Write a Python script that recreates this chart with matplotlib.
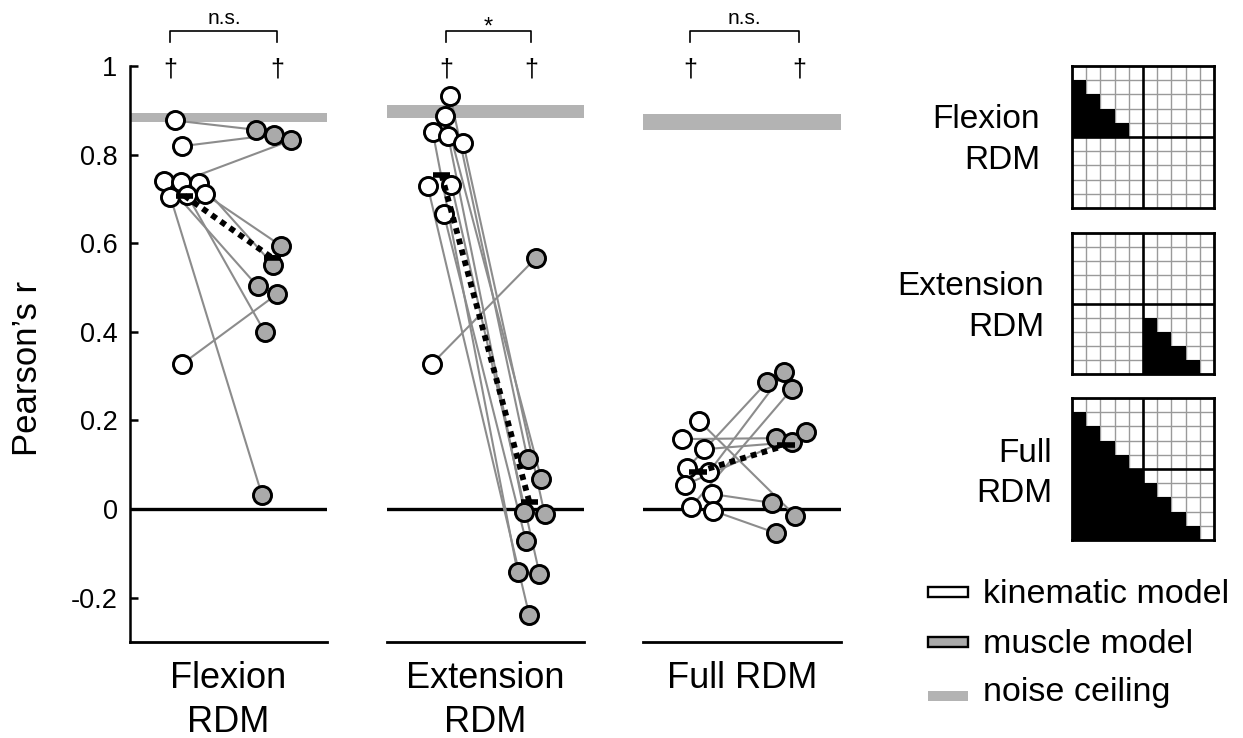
import matplotlib
matplotlib.use("Agg")
import matplotlib.pyplot as plt
from matplotlib.patches import Rectangle
import numpy as np

plt.rcParams['font.family'] = ['Liberation Sans', 'DejaVu Sans']

# ---------------- data ----------------
categories = ['Flexion\nRDM', 'Extension\nRDM', 'Full RDM']

kin_flex = [0.877, 0.819, 0.741, 0.739, 0.737, 0.704, 0.709, 0.711, 0.327]
mus_flex = [0.856, 0.845, 0.503, 0.832, 0.551, 0.032, 0.400, 0.594, 0.485]

kin_ext = [0.932, 0.888, 0.851, 0.843, 0.826, 0.729, 0.732, 0.665, 0.328]
mus_ext = [0.114, 0.069, -0.142, -0.006, -0.011, -0.240, -0.146, -0.071, 0.567]

kin_full = [0.199, 0.158, 0.135, 0.093, 0.084, 0.055, 0.034, 0.004, -0.004]
mus_full = [-0.015, 0.160, 0.151, 0.286, 0.309, 0.175, 0.014, 0.271, -0.054]

noise_lo = [0.874, 0.882, 0.855]
noise_hi = [0.895, 0.911, 0.891]

sig_labels = ['n.s.', '*', 'n.s.']

yticks = [-0.2, 0, 0.2, 0.4, 0.6, 0.8, 1]
ytick_labels = ['-0.2', '0', '0.2', '0.4', '0.6', '0.8', '1']

legend_labels = ['kinematic model', 'muscle model', 'noise ceiling']
rdm_names = ['Flexion\nRDM', 'Extension\nRDM', 'Full\nRDM']

# ---------------- layout (positions only) ----------------
kin_jit = [
    [-0.11, -0.03, -0.235, -0.04, 0.17, -0.16, 0.03, 0.23, -0.03],
    [0.10, 0.043, -0.10, 0.074, 0.247, -0.158, 0.112, 0.027, -0.108],
    [0.015, -0.178, 0.072, -0.117, 0.128, -0.14, 0.162, -0.08, 0.174],
]
mus_jit = [
    [-0.185, 0.02, -0.17, 0.21, 0.01, -0.12, -0.09, 0.10, 0.05],
    [-0.022, 0.133, -0.136, -0.06, 0.172, -0.002, 0.114, -0.041, 0.075],
    [0.102, -0.114, 0.065, -0.22, -0.02, 0.224, -0.1625, 0.065, -0.117],
]
dagger_x = [(-0.66, 0.557), (-0.449, 0.517), (-0.59, 0.648)]

W, H = 1243, 738
fig = plt.figure(figsize=(W / 100, H / 100), dpi=100)


def rect(x0, y0, x1, y1):
    return [x0 / W, 1 - y1 / H, (x1 - x0) / W, (y1 - y0) / H]


panel_px = [(130, 327), (387, 584), (643, 841)]
kins = [kin_flex, kin_ext, kin_full]
muss = [mus_flex, mus_ext, mus_full]

LINE_C = '#8c8c8c'
MUS_C = '#aaaaaa'
NOISE_C = '#b3b3b3'

for p in range(3):
    x0, x1 = panel_px[p]
    ax = fig.add_axes(rect(x0, 66, x1, 642))
    ax.set_xlim(-1.12, 1.12)
    ax.set_ylim(-0.3, 1.0)
    ax.patch.set_alpha(0)
    ax.axhspan(noise_lo[p], noise_hi[p], color=NOISE_C, lw=0, zorder=1)
    ax.axhline(0, color='k', lw=2.4, zorder=2)
    k = np.array(kins[p])
    m = np.array(muss[p])
    kx = -0.5 + np.array(kin_jit[p])
    mx = 0.5 + np.array(mus_jit[p])
    for i in range(len(k)):
        ax.plot([kx[i], mx[i]], [k[i], m[i]], color=LINE_C, lw=1.5, zorder=3)
    ax.plot(kx, k, 'o', ms=13, mfc='white', mec='k', mew=2.1, zorder=4, ls='none')
    ax.plot(mx, m, 'o', ms=13, mfc=MUS_C, mec='k', mew=2.1, zorder=5, ls='none')
    mk, mm = k.mean(), m.mean()
    ax.plot([-0.5, 0.5], [mk, mm], color='k', lw=4.2, ls=(0, (1, 0.9)), zorder=6)
    ax.plot([-0.6, -0.4], [mk, mk], color='k', lw=4.0, solid_capstyle='butt', zorder=6)
    ax.plot([0.4, 0.6], [mm, mm], color='k', lw=4.0, solid_capstyle='butt', zorder=6)

    # significance
    dk, dm = dagger_x[p]
    for dx in (dk, dm):
        ax.text(dx, 0.992, '\u2020', ha='center', va='center', fontsize=18, clip_on=False)
    ax.plot([dk, dk, dm, dm], [1.055, 1.0785, 1.0785, 1.055], color='k', lw=1.2,
            clip_on=False)
    if sig_labels[p] == '*':
        ax.text((dk + dm) / 2, 1.074, '*', ha='center', va='baseline', fontsize=17,
                clip_on=False)
    else:
        ax.text((dk + dm) / 2, 1.0948, sig_labels[p], ha='center', va='baseline',
                fontsize=15, clip_on=False)

    ax.set_xticks([])
    for s in ('top', 'right'):
        ax.spines[s].set_visible(False)
    ax.spines['bottom'].set_linewidth(2.0)
    if p == 0:
        ax.spines['left'].set_linewidth(1.8)
        ax.set_yticks(yticks)
        ax.set_yticklabels(ytick_labels)
        ax.tick_params(axis='y', direction='in', length=6, width=1.8, labelsize=19.5, pad=9)
    else:
        ax.spines['left'].set_visible(False)
        ax.set_yticks([])

    # category label
    cx = (x0 + x1) / 2
    lines = categories[p].split('\n')
    for li, txt in enumerate(lines):
        fig.text(cx / W, 1 - (688 + 44 * li) / H, txt, ha='center', va='baseline',
                 fontsize=26)

# y label
fig.text(28 / W, 1 - 368 / H, 'Pearson\u2019s r', rotation=90, ha='center', va='center',
         fontsize=25)

# ---------------- RDM icons ----------------
icon_y = [(66, 208), (233, 374), (398, 540)]
label_right = [1040, 1044, 1052]
label_base = [(128, 169), (295, 336), (462, 502)]
n = 10
ii, jj = np.meshgrid(np.arange(n), np.arange(n), indexing='ij')
masks = [
    (ii > jj) & (ii < 5) & (jj < 5),
    (ii > jj) & (ii >= 5) & (jj >= 5),
    (ii > jj),
]
for r in range(3):
    y0, y1 = icon_y[r]
    axi = fig.add_axes(rect(1072, y0, 1214, y1))
    axi.set_facecolor('white')
    rgba = np.zeros((n, n, 4))
    rgba[..., 3] = masks[r].astype(float)
    for g in range(1, n):
        if g == 5:
            continue
        axi.axvline(g, color='#9a9a9a', lw=1.0, zorder=1)
        axi.axhline(g, color='#9a9a9a', lw=1.0, zorder=1)
    axi.axvline(5, color='k', lw=1.9, zorder=1.5)
    axi.axhline(5, color='k', lw=1.9, zorder=1.5)
    axi.imshow(rgba, interpolation='nearest', extent=(0, n, n, 0), aspect='auto',
               zorder=2)
    axi.set_xlim(0, n)
    axi.set_ylim(n, 0)
    axi.set_xticks([])
    axi.set_yticks([])
    for s in axi.spines.values():
        s.set_linewidth(2.0)
        s.set_zorder(4)
    l1, l2 = rdm_names[r].split('\n')
    fig.text(label_right[r] / W, 1 - label_base[r][0] / H, l1, ha='right', va='baseline',
             fontsize=24)
    fig.text(label_right[r] / W, 1 - label_base[r][1] / H, l2, ha='right', va='baseline',
             fontsize=24)

# ---------------- legend ----------------
leg_faces = ['white', MUS_C, NOISE_C]
leg_edges = ['k', 'k', 'none']
leg_cy = [592, 642, 696]
leg_base = [603, 653, 701]
for q in range(3):
    rct = Rectangle((928 / W, 1 - (leg_cy[q] + 5) / H), 40 / W, 10 / H,
                    transform=fig.transFigure, facecolor=leg_faces[q],
                    edgecolor=leg_edges[q], lw=1.7)
    fig.add_artist(rct)
    fig.text(983 / W, 1 - leg_base[q] / H, legend_labels[q], ha='left', va='baseline',
             fontsize=24.5)

fig.savefig('out.png', dpi=100)
